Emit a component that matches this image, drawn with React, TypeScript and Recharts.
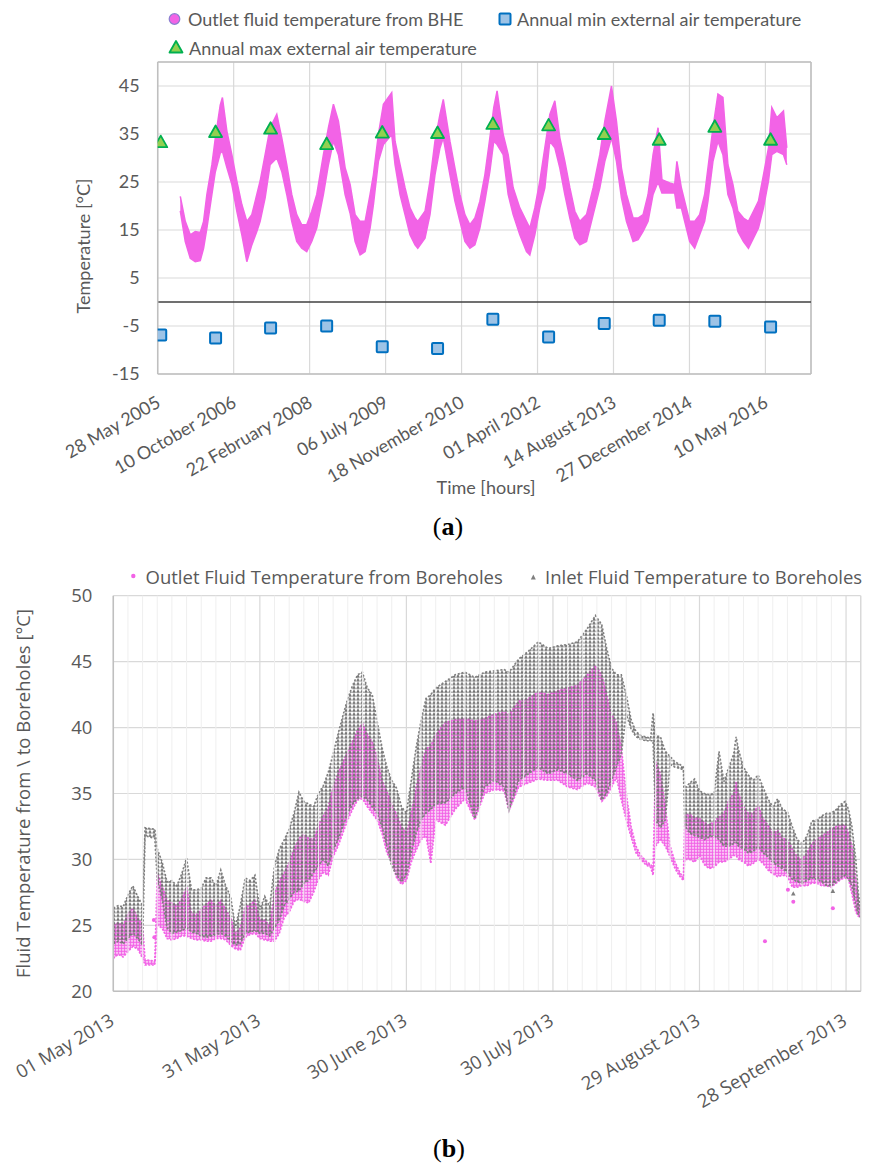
import { Area, CartesianGrid, ComposedChart, ReferenceLine, Scatter, XAxis, YAxis } from 'recharts';

const EPOCH = Date.UTC(1899, 11, 30);
const DAY_MS = 86400000;
const MONTHS = [
  'January', 'February', 'March', 'April', 'May', 'June',
  'July', 'August', 'September', 'October', 'November', 'December',
];

const TEXT = '#595959';
const PINK = '#f263e6';
const GREY = '#7f7f7f';
const GRID = '#d9d9d9';
const BORDER = '#bfbfbf';

// ---------- (a) long-term record, 2005-2016 ----------
const aTicks = [38500, 39000, 39500, 40000, 40500, 41000, 41500, 42000, 42500];
const aTempTicks = [-15, -5, 5, 15, 25, 35, 45];

// outlet fluid temperature band (decimal year, lower / upper edge of the point cloud)
const outletYear = [
  2005.81, 2005.9, 2005.99, 2006.08, 2006.17, 2006.23, 2006.29, 2006.38, 2006.44, 2006.53, 2006.57,
  2006.65, 2006.74, 2006.83, 2006.92, 2007.01, 2007.1, 2007.19, 2007.25, 2007.34, 2007.43, 2007.55,
  2007.64, 2007.73, 2007.82, 2007.91, 2008.0, 2008.09, 2008.18, 2008.27, 2008.39, 2008.48, 2008.57,
  2008.66, 2008.78, 2008.87, 2008.96, 2009.05, 2009.14, 2009.23, 2009.29, 2009.38, 2009.47, 2009.62,
  2009.68, 2009.77, 2009.86, 2009.95, 2010.04, 2010.09, 2010.22, 2010.31, 2010.4, 2010.49, 2010.55,
  2010.67, 2010.76, 2010.85, 2010.94, 2011.03, 2011.12, 2011.21, 2011.3, 2011.39, 2011.46, 2011.52,
  2011.63, 2011.72, 2011.81, 2011.93, 2012.05, 2012.11, 2012.2, 2012.29, 2012.38, 2012.47, 2012.56,
  2012.65, 2012.74, 2012.83, 2012.92, 2013.01, 2013.13, 2013.25, 2013.37, 2013.46, 2013.58, 2013.67,
  2013.76, 2013.85, 2013.97, 2014.06, 2014.15, 2014.24, 2014.33, 2014.42, 2014.49, 2014.63, 2014.72,
  2014.76, 2014.84, 2014.93, 2014.99, 2015.08, 2015.17, 2015.26, 2015.32, 2015.41, 2015.5, 2015.59,
  2015.68, 2015.77, 2015.86, 2015.96, 2016.05, 2016.14, 2016.23, 2016.32, 2016.41, 2016.47, 2016.56,
  2016.68, 2016.74,
];
const outletLow = [
  19.0, 12.6, 9.1, 8.4, 8.6, 11.2, 15.4, 22.4, 27.0, 31.0, 31.4,
  28.0, 24.5, 18.9, 14.0, 8.4, 11.9, 14.7, 16.8, 21.7, 28.6, 30.0,
  27.2, 22.4, 16.8, 12.6, 11.2, 10.5, 12.6, 15.4, 22.4, 28.6, 33.5,
  30.7, 22.4, 18.5, 12.6, 9.8, 10.5, 15.4, 20.3, 29.3, 32.8, 34.9,
  28.6, 22.4, 18.2, 14.0, 11.9, 11.2, 13.3, 18.2, 26.5, 32.1, 34.2,
  26.5, 21.0, 16.8, 12.6, 11.2, 11.9, 15.4, 21.0, 27.2, 33.5, 32.8,
  30.7, 22.4, 18.2, 14.0, 10.5, 9.8, 14.0, 19.6, 23.8, 33.5, 32.1,
  27.9, 22.4, 17.5, 13.3, 11.9, 12.6, 18.2, 23.8, 29.3, 34.2, 29.3,
  21.7, 16.8, 12.6, 13.0, 14.7, 16.8, 22.4, 25.0, 22.7, 22.7, 22.7,
  19.6, 19.6, 15.4, 12.6, 11.2, 14.0, 16.8, 21.0, 29.3, 33.5, 30.7,
  22.4, 19.6, 14.7, 12.6, 11.2, 13.3, 15.4, 19.6, 25.2, 30.7, 31.4,
  30.7, 28.6,
];
const outletHigh = [
  22.0, 16.8, 14.0, 14.7, 14.5, 16.8, 22.4, 28.6, 34.0, 41.0, 42.6,
  35.6, 30.7, 25.2, 20.3, 16.8, 18.2, 22.4, 25.2, 30.7, 36.3, 39.1,
  34.2, 28.6, 22.4, 18.2, 16.1, 16.1, 18.9, 22.4, 30.7, 36.3, 41.2,
  37.7, 28.0, 24.5, 18.2, 16.8, 16.8, 22.4, 26.5, 34.9, 41.2, 43.6,
  33.5, 28.6, 23.8, 19.6, 17.5, 16.8, 18.9, 25.2, 33.5, 39.1, 42.2,
  33.5, 27.9, 22.4, 18.2, 16.1, 17.5, 21.0, 26.5, 34.2, 40.5, 44.0,
  34.9, 30.7, 23.8, 19.6, 16.8, 15.4, 19.6, 25.2, 32.1, 39.1, 41.9,
  34.2, 29.3, 23.8, 18.9, 16.8, 18.2, 23.8, 30.7, 37.7, 45.0, 37.7,
  27.9, 22.4, 17.5, 17.5, 18.2, 22.4, 30.7, 36.3, 25.5, 24.8, 24.5,
  29.3, 23.8, 19.6, 16.8, 16.8, 18.2, 22.4, 27.9, 36.3, 43.3, 42.6,
  28.6, 24.5, 18.9, 17.5, 16.8, 18.9, 21.0, 26.5, 32.1, 40.5, 38.4,
  39.8, 32.1,
];

const annualDates = [
  '2005-06-17', '2006-06-13', '2007-06-10', '2008-06-13', '2009-06-14', '2010-06-13',
  '2011-06-12', '2012-06-13', '2013-06-14', '2014-06-11', '2015-06-12', '2016-06-13',
];
const annualMax = [33.2, 35.3, 36.0, 32.8, 35.2, 35.1, 37.0, 36.7, 34.9, 33.7, 36.4, 33.7];
const annualMin = [-6.9, -7.5, -5.4, -5.0, -9.3, -9.7, -3.6, -7.3, -4.5, -3.8, -4.0, -5.2];

// ---------- (b) summer 2013, days after 01 May 2013 ----------
const bTicks = [41395, 41425, 41455, 41485, 41515, 41545];
const bTempTicks = [20, 25, 30, 35, 40, 45, 50];

const bDay = [
  0, 1, 2, 3, 4, 5, 6, 6.5, 8.5, 9, 10, 11, 12, 13, 14, 15, 16, 17, 18, 19, 20, 21, 22, 23, 24, 25,
  26, 27, 28, 29, 30, 31, 32, 33, 34, 35, 36, 37, 38, 39, 40, 41, 42, 43, 44, 45, 46, 47, 48, 49, 50,
  51, 52, 53, 54, 55, 56, 57, 58, 59, 60, 61, 62, 63, 64, 65, 66, 68, 70, 72, 74, 76, 78, 80, 81, 83,
  85, 87, 89, 91, 93, 95, 97, 98.7, 100, 101, 102, 103, 104, 105, 106, 107, 108, 109, 110, 110.5,
  111, 112, 113, 114, 115, 116, 116.7, 117, 118, 119, 120, 121, 122, 123, 124, 125, 126, 127, 127.5,
  128, 129, 130, 131, 132, 133, 134, 135, 136, 137, 138, 139, 140, 141, 142, 143, 144, 145, 146, 147,
  148, 149, 149.8, 150.5, 151.2, 152, 152.5, 153,
];
const inletLow = [
  23.6, 23.8, 23.6, 24.0, 24.4, 24.0, 23.5, 31.8, 31.6, 28.5, 27.0, 24.8, 24.4, 24.5, 24.6, 24.8, 24.5,
  24.4, 24.2, 24.1, 24.2, 24.3, 24.4, 24.2, 23.8, 23.5, 23.6, 24.4, 24.5, 24.6, 24.4, 24.4, 24.2, 24.8,
  25.4, 26.5, 27.0, 27.5, 27.6, 28.2, 28.4, 29.0, 29.5, 30.0, 29.5, 30.7, 31.5, 32.5, 33.5, 34.2, 34.6,
  34.8, 34.5, 34.0, 33.5, 32.5, 31.0, 29.5, 28.8, 28.3, 28.8, 30.5, 32.0, 33.0, 33.5, 33.8, 34.2, 34.3,
  35.0, 35.5, 33.1, 35.5, 36.0, 35.5, 33.7, 36.0, 36.5, 37.0, 36.5, 36.8, 36.5, 36.0, 36.5, 36.0, 34.5,
  35.0, 36.0, 37.0, 38.0, 41.0, 39.9, 39.3, 39.1, 39.0, 39.0, 39.0, 33.0, 32.4, 33.0, 37.2, 37.0, 36.9,
  36.8, 32.5, 32.0, 31.8, 31.7, 31.5, 31.7, 31.8, 31.5, 31.0, 31.0, 31.2, 31.3, 31.0, 30.8, 30.5, 30.6,
  31.0, 30.5, 30.2, 29.8, 29.5, 29.3, 29.0, 28.5, 28.3, 28.2, 28.4, 28.6, 28.5, 28.3, 28.0, 28.0, 28.3,
  28.6, 28.8, 28.5, 28.0, 26.5, 25.8, 25.6,
];
const inletHigh = [
  26.3, 26.5, 26.4, 27.3, 28.0, 27.2, 26.5, 32.4, 32.3, 30.8, 29.8, 28.3, 28.4, 28.0, 28.9, 30.1, 27.7,
  27.7, 27.8, 28.6, 28.6, 28.0, 29.2, 28.0, 27.2, 24.9, 26.5, 28.6, 28.4, 28.8, 26.2, 27.2, 26.4, 29.5,
  30.8, 31.5, 32.3, 33.5, 35.1, 34.4, 34.2, 34.0, 35.0, 35.6, 36.6, 38.0, 39.5, 40.9, 42.2, 43.2, 44.0,
  44.2, 43.0, 42.5, 40.5, 38.5, 37.0, 36.0, 35.4, 34.0, 33.5, 36.0, 38.5, 40.5, 42.2, 42.5, 43.0, 43.5,
  44.0, 44.2, 43.8, 44.2, 44.3, 44.4, 44.2, 45.2, 45.8, 46.5, 46.0, 46.2, 46.3, 46.5, 47.5, 48.5, 47.8,
  46.0, 44.5, 44.0, 44.0, 42.5, 40.6, 39.7, 39.4, 39.3, 39.2, 41.1, 39.4, 39.3, 38.2, 37.8, 37.4, 37.2,
  37.0, 35.4, 35.8, 36.1, 35.2, 35.0, 34.9, 35.0, 38.2, 35.9, 37.0, 38.0, 39.3, 38.3, 37.0, 36.4, 36.0,
  36.4, 35.5, 34.6, 34.0, 34.6, 33.8, 33.6, 32.5, 31.5, 31.2, 31.8, 32.9, 33.0, 33.3, 33.5, 33.5, 33.8,
  34.2, 34.4, 33.8, 32.5, 30.0, 27.5, 26.0,
];
const outletLowB = [
  22.5, 22.8, 22.6, 23.0, 23.4, 23.2, 22.5, 22.0, 22.0, 25.0, 24.8, 24.0, 23.9, 24.0, 24.2, 24.2, 24.0,
  23.9, 23.9, 23.8, 23.8, 24.0, 24.0, 23.9, 23.5, 23.2, 23.1, 24.1, 24.3, 24.4, 24.0, 23.9, 23.8, 23.8,
  24.4, 25.6, 26.0, 26.8, 27.0, 26.8, 26.7, 27.5, 28.5, 29.0, 28.8, 30.2, 31.0, 32.0, 33.0, 33.8, 34.5,
  34.6, 34.0, 33.5, 33.0, 32.0, 30.5, 29.8, 28.6, 28.1, 28.4, 29.8, 30.7, 31.5, 31.8, 29.7, 33.0, 32.6,
  33.8, 34.6, 33.0, 35.0, 35.3, 35.2, 33.7, 35.5, 35.8, 36.1, 36.0, 36.0, 35.5, 35.3, 35.8, 35.5, 34.4,
  34.8, 35.5, 36.2, 34.5, 33.0, 31.7, 30.5, 30.0, 29.6, 29.4, 28.8, 31.0, 31.5, 31.0, 30.2, 29.3, 28.7,
  28.4, 30.0, 30.0, 29.8, 30.3, 29.6, 29.3, 29.4, 29.8, 29.8, 30.0, 30.3, 30.3, 30.0, 29.8, 29.5, 29.7,
  30.0, 29.7, 29.2, 28.9, 28.7, 28.8, 28.7, 27.9, 27.9, 28.0, 28.0, 28.2, 28.2, 28.0, 28.0, 27.9, 28.2,
  28.5, 28.6, 28.5, 27.4, 26.0, 25.7, 25.6,
];
const outletHighB = [
  25.0, 25.2, 25.0, 25.9, 26.3, 25.6, 25.0, 22.4, 22.3, 29.0, 28.0, 26.9, 26.7, 26.5, 27.0, 27.9, 25.9,
  25.8, 26.2, 26.6, 26.9, 26.5, 26.9, 26.2, 25.6, 24.4, 24.8, 26.4, 26.6, 26.9, 25.4, 25.4, 25.0, 27.4,
  28.4, 29.0, 29.8, 30.8, 31.6, 31.9, 31.6, 31.5, 32.6, 33.3, 34.0, 35.5, 36.5, 37.4, 38.2, 39.0, 39.8,
  40.3, 39.5, 38.9, 37.8, 36.0, 35.2, 34.2, 33.4, 32.5, 32.0, 33.5, 35.5, 37.0, 38.4, 38.6, 39.5, 40.4,
  40.6, 40.7, 40.5, 40.7, 41.0, 41.2, 41.0, 42.0, 42.2, 42.7, 42.5, 42.8, 43.0, 43.2, 44.0, 44.7, 44.0,
  42.5, 41.0, 40.4, 38.5, 35.0, 32.5, 31.0, 30.3, 29.9, 29.6, 29.4, 37.4, 36.5, 34.0, 31.0, 29.8, 29.0,
  28.6, 33.4, 33.4, 33.2, 33.1, 32.8, 32.6, 32.9, 33.2, 33.5, 34.5, 35.0, 35.9, 35.0, 34.0, 33.5, 33.5,
  34.1, 33.1, 32.6, 32.0, 32.2, 31.6, 31.5, 30.8, 30.2, 30.0, 30.5, 31.2, 31.5, 31.8, 32.0, 32.3, 32.5,
  32.6, 32.6, 32.0, 31.0, 28.5, 27.0, 26.0,
];

// isolated readings away from the main cloud
const outletStrayDay = [8.3, 8.4, 133.4, 138.1, 139.2, 147.3];
const outletStrayTemp = [25.4, 24.1, 23.8, 27.7, 26.8, 26.3];
const inletStrayDay = [139.2, 147.3];
const inletStrayTemp = [27.4, 27.6];

// ---------- helpers ----------
function isoSerial(iso: string) {
  const [y, m, d] = iso.split('-').map(Number);
  return (Date.UTC(y, m - 1, d) - EPOCH) / DAY_MS;
}
function yearSerial(t: number) {
  const y = Math.floor(t);
  const a = Date.UTC(y, 0, 1);
  const b = Date.UTC(y + 1, 0, 1);
  return (a + (t - y) * (b - a) - EPOCH) / DAY_MS;
}
function fmtDate(serial: number) {
  const d = new Date(EPOCH + serial * DAY_MS);
  return `${String(d.getUTCDate()).padStart(2, '0')} ${MONTHS[d.getUTCMonth()]} ${d.getUTCFullYear()}`;
}

const aBand = outletYear.map((t, i) => ({ x: yearSerial(t), band: [outletLow[i], outletHigh[i]] }));
const aMax = annualDates.map((d, i) => ({ x: isoSerial(d), y: annualMax[i] }));
const aMin = annualDates.map((d, i) => ({ x: isoSerial(d), y: annualMin[i] }));

const bStart = bTicks[0];
const bEnd = bStart + 153;
const bBand = bDay.map((d, i) => ({
  x: bStart + d,
  inlet: [inletLow[i], inletHigh[i]],
  outlet: [outletLowB[i], outletHighB[i]],
}));
const bOutStray = outletStrayDay.map((d, i) => ({ x: bStart + d, y: outletStrayTemp[i] }));
const bInStray = inletStrayDay.map((d, i) => ({ x: bStart + d, y: inletStrayTemp[i] }));
// light minor gridlines every 3 days
const bMinor: number[] = [];
for (let v = bStart + 3; v < bEnd; v += 3) if ((v - bStart) % 30 !== 0) bMinor.push(v);

// ---------- marks ----------
function SlantTick({ x, y, payload, font, size, dx, dy }: any) {
  return (
    <g transform={`translate(${x + dx},${y + dy})`}>
      <text textAnchor="end" transform="rotate(-30)" fill={TEXT} fontFamily={font} fontSize={size}>
        {fmtDate(payload.value)}
      </text>
    </g>
  );
}

const MaxMarker = ({ cx, cy }: any) => (
  <path
    d={`M${cx} ${cy - 7}L${cx + 6.5} ${cy + 4.5}L${cx - 6.5} ${cy + 4.5}Z`}
    fill="#92d050"
    stroke="#00b050"
    strokeWidth={1.8}
    strokeLinejoin="round"
  />
);
const MinMarker = ({ cx, cy }: any) => (
  <rect x={cx - 5.5} y={cy - 5.5} width={11} height={11} rx={1} fill="#9dc3e6" stroke="#0070c0" strokeWidth={2} />
);
const PinkDot = ({ cx, cy }: any) => <circle cx={cx} cy={cy} r={2} fill={PINK} />;
const GreyTri = ({ cx, cy }: any) => (
  <path d={`M${cx} ${cy - 2.5}L${cx + 2.3} ${cy + 1.8}L${cx - 2.3} ${cy + 1.8}Z`} fill={GREY} />
);

function ChartA() {
  return (
    <ComposedChart
      width={872}
      height={545}
      data={aBand}
      margin={{ top: 62, right: 61, bottom: 111, left: 97.7 }}
    >
      <CartesianGrid stroke={GRID} strokeWidth={1.2} />
      <XAxis
        type="number"
        dataKey="x"
        domain={[38500, 42800]}
        ticks={aTicks}
        interval={0}
        allowDataOverflow
        height={60}
        tickSize={0}
        tickMargin={0}
        axisLine={{ stroke: BORDER, strokeWidth: 1.5 }}
        tickLine={false}
        tick={(p: any) => <SlantTick {...p} font="Lato" size={18} dx={4} dy={32} />}
      />
      <YAxis
        type="number"
        domain={[-15, 50]}
        ticks={aTempTicks}
        interval={0}
        allowDataOverflow
        width={60}
        tickSize={0}
        tickMargin={18}
        axisLine={{ stroke: BORDER, strokeWidth: 1.5 }}
        tickLine={false}
        tick={{ fill: TEXT, fontSize: 18, fontFamily: 'Lato' }}
      />
      <ReferenceLine y={50} stroke={BORDER} strokeWidth={1.5} ifOverflow="visible" />
      <ReferenceLine x={42800} stroke={BORDER} strokeWidth={1.5} ifOverflow="visible" />
      <ReferenceLine y={0} stroke="#404040" strokeWidth={1.4} />
      <Area
        type="linear"
        dataKey="band"
        stroke={PINK}
        strokeWidth={1.5}
        fill={PINK}
        fillOpacity={1}
        dot={false}
        activeDot={false}
        isAnimationActive={false}
      />
      <Scatter data={aMin} dataKey="y" shape={MinMarker} isAnimationActive={false} />
      <Scatter data={aMax} dataKey="y" shape={MaxMarker} isAnimationActive={false} />
    </ComposedChart>
  );
}

function ChartB() {
  return (
    <ComposedChart
      width={872}
      height={604}
      data={bBand}
      margin={{ top: 35.7, right: 11.3, bottom: 112.7, left: 53.3 }}
    >
      <defs>
        <pattern id="pinkDots" width="3" height="3" patternUnits="userSpaceOnUse">
          <circle cx="1.5" cy="1.5" r="1.4" fill={PINK} />
        </pattern>
        <pattern id="greyTris" width="4" height="3.8" patternUnits="userSpaceOnUse">
          <path d="M2 0.1L3.95 3.6L0.05 3.6Z" fill="#707070" />
        </pattern>
      </defs>
      {bMinor.map((v) => (
        <ReferenceLine key={v} x={v} stroke="#efefef" strokeWidth={1} />
      ))}
      <CartesianGrid stroke={GRID} strokeWidth={1.2} />
      <XAxis
        type="number"
        dataKey="x"
        domain={[bStart, bEnd]}
        ticks={bTicks}
        interval={0}
        allowDataOverflow
        height={60}
        tickSize={0}
        tickMargin={0}
        axisLine={{ stroke: BORDER, strokeWidth: 1.5 }}
        tickLine={false}
        tick={(p: any) => <SlantTick {...p} font="Open Sans" size={18.5} dx={2} dy={33} />}
      />
      <YAxis
        type="number"
        domain={[20, 50]}
        ticks={bTempTicks}
        interval={0}
        allowDataOverflow
        width={60}
        tickSize={0}
        tickMargin={21}
        axisLine={{ stroke: BORDER, strokeWidth: 1.5 }}
        tickLine={false}
        tick={{ fill: TEXT, fontSize: 18.5, fontFamily: 'Open Sans' }}
      />
      <ReferenceLine x={bEnd} stroke={GRID} strokeWidth={1.2} ifOverflow="visible" />
      <Area
        type="linear"
        dataKey="outlet"
        stroke={PINK}
        strokeWidth={1.6}
        strokeDasharray="2 1.5"
        fill="url(#pinkDots)"
        fillOpacity={1}
        dot={false}
        activeDot={false}
        isAnimationActive={false}
      />
      <Area
        type="linear"
        dataKey="inlet"
        stroke={GREY}
        strokeWidth={1.6}
        strokeDasharray="2 1.8"
        fill="url(#greyTris)"
        fillOpacity={1}
        dot={false}
        activeDot={false}
        isAnimationActive={false}
      />
      <Scatter data={bOutStray} dataKey="y" shape={PinkDot} isAnimationActive={false} />
      <Scatter data={bInStray} dataKey="y" shape={GreyTri} isAnimationActive={false} />
    </ComposedChart>
  );
}

function Labels() {
  return (
    <svg width={872} height={1164} style={{ position: 'absolute', left: 0, top: 0, pointerEvents: 'none' }}>
      {/* (a) legend */}
      <circle cx={174.5} cy={19} r={5.3} fill={PINK} stroke="#8a7fd0" strokeWidth={1.2} />
      <text x={188} y={25.5} fontFamily="Lato" fontSize={18} fill={TEXT}>
        Outlet fluid temperature from BHE
      </text>
      <rect x={499.5} y={13.5} width={11} height={11} rx={1} fill="#9dc3e6" stroke="#0070c0" strokeWidth={2} />
      <text x={517} y={25.5} fontFamily="Lato" fontSize={18} fill={TEXT}>
        Annual min external air temperature
      </text>
      <path d="M176 41L182.5 52.5L169.5 52.5Z" fill="#92d050" stroke="#00b050" strokeWidth={1.8} strokeLinejoin="round" />
      <text x={189} y={54.5} fontFamily="Lato" fontSize={18} fill={TEXT}>
        Annual max external air temperature
      </text>
      <text transform="translate(90,246) rotate(-90)" textAnchor="middle" fontFamily="Lato" fontSize={18} fill={TEXT}>
        Temperature [°C]
      </text>
      <text x={486} y={494} textAnchor="middle" fontFamily="Lato" fontSize={18} fill={TEXT}>
        Time [hours]
      </text>
      <text x={448} y={535} textAnchor="middle" fontFamily="Liberation Serif" fontSize={26} fill="#000">
        (<tspan fontWeight="bold">a</tspan>)
      </text>

      {/* (b) legend */}
      <circle cx={133.3} cy={576} r={2.2} fill={PINK} />
      <text x={145.5} y={583.5} fontFamily="Open Sans" fontSize={18.5} fill={TEXT}>
        Outlet Fluid Temperature from Boreholes
      </text>
      <path d="M533.3 574.5L535.8 579.5L530.8 579.5Z" fill={GREY} />
      <text x={545} y={583.5} fontFamily="Open Sans" fontSize={18.5} fill={TEXT}>
        Inlet Fluid Temperature to Boreholes
      </text>
      <text transform="translate(30,793.5) rotate(-90)" textAnchor="middle" fontFamily="Open Sans" fontSize={18.5} fill={TEXT}>
        Fluid Temperature from \ to Boreholes [°C]
      </text>
      <text x={449} y={1157} textAnchor="middle" fontFamily="Liberation Serif" fontSize={26} fill="#000">
        (<tspan fontWeight="bold">b</tspan>)
      </text>
    </svg>
  );
}

export default function App() {
  return (
    <div style={{ position: 'absolute', left: 0, top: 0, width: 872, height: 1164, background: '#fff' }}>
      <div style={{ position: 'absolute', left: 0, top: 0 }}>
        <ChartA />
      </div>
      <div style={{ position: 'absolute', left: 0, top: 560 }}>
        <ChartB />
      </div>
      <Labels />
    </div>
  );
}
